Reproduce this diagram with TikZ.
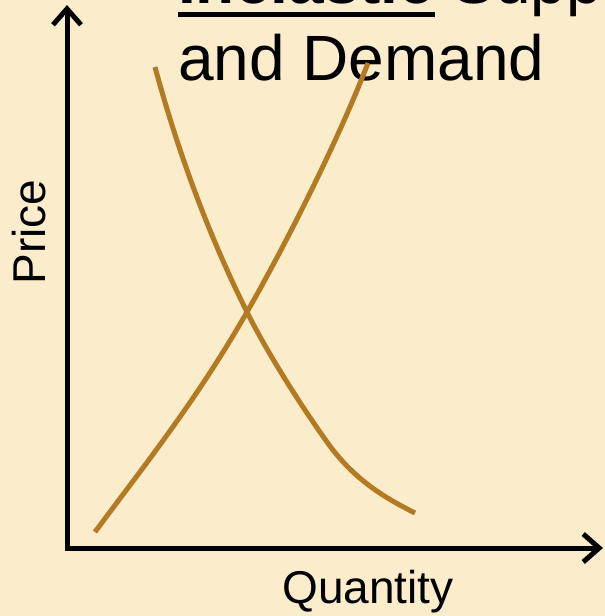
\documentclass[tikz,border=0pt]{standalone}
\usepackage{fontspec}
\setmainfont{Liberation Sans}
\usetikzlibrary{arrows.meta}
\definecolor{bgc}{HTML}{FBEDCB}
\definecolor{curvec}{HTML}{B47A22}
\begin{document}
\begin{tikzpicture}[x=1pt,y=-1pt,
  axis/.style={line width=5pt, black, line join=miter},
  curve/.style={line width=5pt, curvec},
  bigtitle/.style={anchor=base west, inner sep=0pt, font=\fontsize{64}{64}\selectfont},
  axlabel/.style={inner sep=0pt, font=\fontsize{46}{46}\selectfont}]
\useasboundingbox (0,0) rectangle (605,616);
\fill[bgc] (0,0) rectangle (605,616);
% title
\node[bigtitle, font=\fontsize{64}{64}\selectfont\bfseries] (ine) at (178,3) {Inelastic};
\node[bigtitle] (sup) at ([xshift=17.8pt]ine.base east) {Supply};
\fill ([yshift=-9pt]ine.base west) rectangle ([yshift=-14pt]ine.base east);
\node[bigtitle] (and) at (178,80) {and Demand};
% axes
\coordinate (ytip) at (67,5);
\coordinate (xtip) at (603,548);
\coordinate (O) at (67,548);
\draw[axis, {Straight Barb[length=16pt,width=28pt]}-{Straight Barb[length=16pt,width=28pt]}] (ytip) -- (O) -- (xtip);
% labels
\node[axlabel, anchor=base, rotate=90] (price) at (45,232) {Price};
\node[axlabel, anchor=base] (qty) at (368,603) {Quantity};
% equilibrium point
\coordinate (E) at (247,312);
% demand
\draw[curve] (155,67) .. controls (180,159.5) and (212,242) .. (E)
  .. controls (269,356) and (302,407) .. (327,442)
  .. controls (352,477) and (380,495.5) .. (415,513);
% supply
\draw[curve] (95,532) .. controls (145,464.5) and (197,399.5) .. (E)
  .. controls (287,242) and (338,141) .. (368,63);
\end{tikzpicture}
\end{document}
